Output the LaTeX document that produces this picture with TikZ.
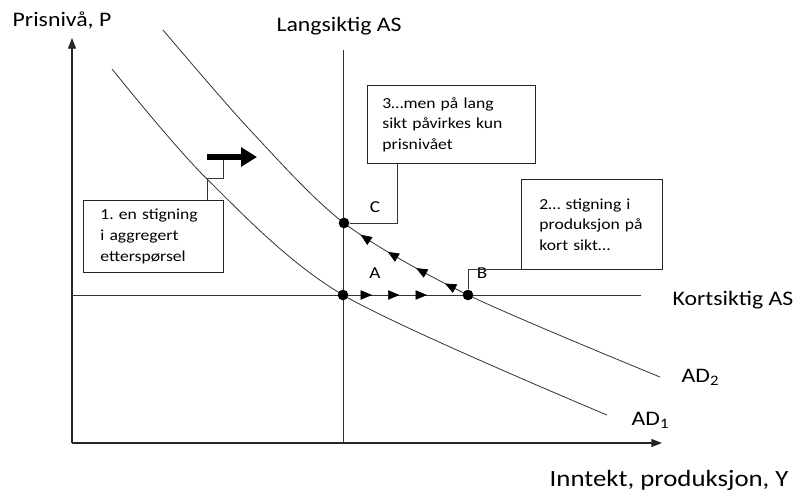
\documentclass[tikz,border=0pt]{standalone}
\usepackage{fontspec}
\setmainfont{Carlito}[FakeStretch=1.15]
\usetikzlibrary{arrows.meta, positioning, decorations.markings}
\frenchspacing

\begin{document}
\begin{tikzpicture}[x=0.75pt, y=-0.75pt,
        curve/.style={black!80, line width=0.6pt},
        axis/.style={black!85, line width=0.9pt, -{Triangle[length=8pt, width=6pt]}},
        dot/.style={circle, fill=black, inner sep=0pt, minimum size=8pt},
        callout/.style={draw=black!85, line width=0.6pt, align=left, anchor=north west,
            inner ysep=0pt, font=\fontsize{11.5}{15.4}\selectfont},
        axislbl/.style={font=\fontsize{15.5}{18}\selectfont},
        ptlbl/.style={font=\fontsize{12.5}{14}\selectfont},
        tri/.tip={Triangle[length=8.5pt, width=7pt]}]
    \useasboundingbox (0,0) rectangle (797,490);

    \coordinate (O) at (72,443);
    \coordinate (ytop) at (72,38);
    \coordinate (xend) at (662,443);
    \draw[axis] (O) -- (ytop);
    \draw[axis] (O) -- (xend);
    \node[axislbl, anchor=west] (plbl) at (8,20) {Prisnivå, P};
    \node[axislbl, font=\fontsize{17.5}{20}\selectfont, anchor=west] (ylbl) at (545,480) {Inntekt, produksjon, Y};

    % AS-kurvene
    \coordinate (lr) at (343,50);
    \coordinate (sr) at (641,295);
    \draw[curve] (lr) -- (lr |- O);
    \draw[curve] (sr -| O) -- (sr);
    \node[axislbl] (lrlbl) at (339,26) {Langsiktig AS};
    \node[axislbl, anchor=west] (srlbl) at (668,300) {Kortsiktig AS};

    % AD-kurvene
    \draw[curve] plot[smooth] coordinates {(112,69) (207,179) (343,295) (607,415)};
    \draw[curve, postaction={decorate}, decoration={markings,
            mark=at position 0.462 with {\arrowreversed[black]{tri}},
            mark=at position 0.514 with {\arrowreversed[black]{tri}},
            mark=at position 0.567 with {\arrowreversed[black]{tri}},
            mark=at position 0.620 with {\arrowreversed[black]{tri}}}]
        plot[smooth] coordinates {(163,30) (250,130) (344,223) (468,295) (660,377)};
    \node[axislbl, anchor=west] (ad1) at (627,420) {AD\textsubscript{1}};
    \node[axislbl, anchor=west] (ad2) at (677,377) {AD\textsubscript{2}};

    \node[dot] (A) at (343,295) {};
    \node[dot] (B) at (468,295) {};
    \node[dot] (C) at (344,223) {};
    \path[postaction={decorate}, decoration={markings,
            mark=between positions 0.232 and 0.7 step 0.22 with {\arrow[black]{tri}}}]
        (A.center) -- (B.center);
    \node[ptlbl] (la) at (375,273) {A};
    \node[ptlbl] (lb) at (482,273) {B};
    \node[ptlbl] (lc) at (375,207) {C};

    % forklaringsboksene
    \node[callout, inner xsep=12.75pt, text width=79.5pt, minimum height=54pt] (box1) at (83,200)
        {1. en stigning\\i aggregert\\etterspørsel};
    \node[callout, inner xsep=11.25pt, text width=103.5pt, minimum height=58.5pt] (box3) at (367,85)
        {3…men på lang\\sikt påvirkes kun\\prisnivået};
    \node[callout, inner xsep=13.5pt, text width=78.75pt, minimum height=67.5pt] (box2) at (521,179)
        {2… stigning~i\\produksjon~på\\kort~sikt…};

    \coordinate (k1) at (207,178);
    \coordinate (k2) at (223,157);
    \coordinate (s1) at (207,157);
    \coordinate (s2) at (257,157);
    \coordinate (j3) at (397,220);
    \draw[curve] (box1.north -| k1) -- (k1) -| (k2);
    \draw[black, line width=4pt, -{Triangle[length=12pt, width=14pt]}] (s1) -- (s2);
    \draw[curve] (box3.south -| j3) |- (C);
    \draw[curve] (box2.south west) -| (B);
\end{tikzpicture}
\end{document}
